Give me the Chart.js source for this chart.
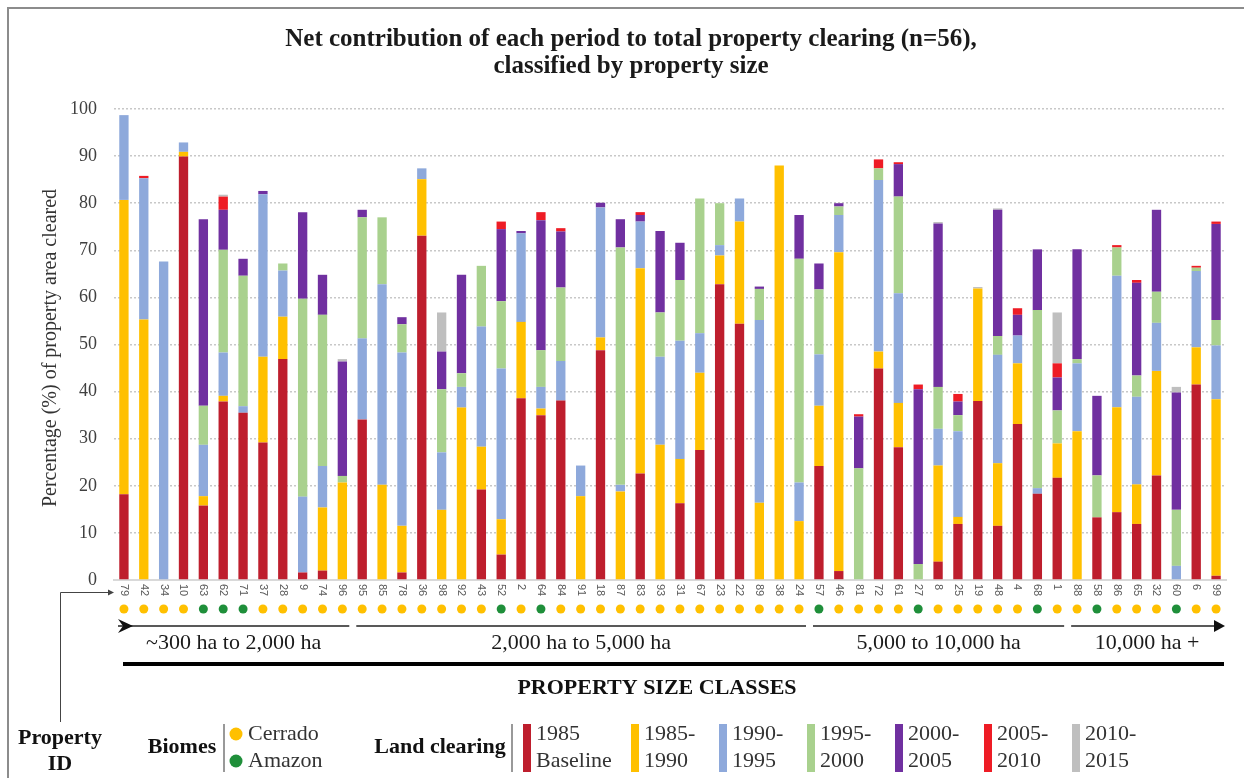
<!DOCTYPE html>
<html><head><meta charset="utf-8">
<script src="https://cdn.jsdelivr.net/npm/chart.js@4.4.1/dist/chart.umd.min.js"></script>
<style>html,body{margin:0;padding:0;background:#fff;}#wrap{width:1244px;height:778px;position:relative;}</style>
</head><body><div id="wrap"><canvas id="c" width="1244" height="778"></canvas></div>
<script>
// ---------- DATA ----------
const propertyIds = [79,42,34,10,63,62,71,37,28,9,74,96,
  95,85,78,36,98,92,43,52,2,64,84,91,18,87,83,93,31,67,23,22,89,38,24,
  57,46,81,72,61,27,8,25,19,48,4,68,1,
  88,58,86,65,32,60,6,99];
const biomes = ['C','C','C','C','A','A','A','C','C','C','C','C',
  'C','C','C','C','C','C','C','A','C','A','C','C','C','C','C','C','C','C','C','C','C','C','C',
  'A','C','C','C','C','A','C','C','C','C','C','A','C',
  'C','A','C','C','C','A','C','C'];
const baseline1985 = [18.2,0,0,89.9,15.8,37.9,35.5,29.2,46.9,1.6,2.0,0,
  34.1,0,1.6,73.1,0,0,19.2,5.4,38.6,35.0,38.1,0,48.8,0,22.6,0,16.3,27.6,62.8,54.4,0,0,0,
  24.2,1.9,0,44.9,28.2,0,3.9,11.9,38.0,11.5,33.1,18.3,21.7,
  0,13.3,14.4,11.9,22.2,0,41.5,0.9];
const p1985_1990 = [62.5,55.3,0,1.0,2.0,1.2,0,18.2,9.0,0,13.4,20.7,
  0,20.2,9.9,12.0,14.9,36.6,9.1,7.5,16.2,1.4,0,17.8,2.7,18.8,43.6,28.7,9.4,16.4,6.1,21.7,16.4,88.0,12.5,
  12.8,67.7,0,3.6,9.4,0,20.4,1.5,23.9,13.3,12.9,0,7.3,
  31.6,0,22.3,8.4,22.2,0,7.9,37.5];
const p1990_1995 = [18.0,30.0,67.6,2.0,10.9,9.2,1.4,34.5,9.8,16.1,8.8,0,
  17.2,42.6,36.8,2.3,12.2,4.4,25.5,32.0,18.8,4.6,8.4,6.5,27.6,1.4,9.9,18.7,25.1,8.4,2.2,4.9,38.8,0,8.2,
  10.9,7.9,0,36.4,23.3,0,7.8,18.2,0,23.0,5.9,1.2,0,
  14.4,0,27.9,18.6,10.2,3.0,16.2,11.4];
const p1995_2000 = [0,0,0,0,8.3,21.8,27.7,0,1.5,42.0,32.1,1.4,
  25.7,14.2,6.0,0,13.4,2.9,12.9,14.3,0,7.8,15.6,0,0,50.4,0,9.4,12.9,28.6,8.9,0,6.6,0,47.5,
  13.8,1.8,23.7,2.5,20.5,3.4,8.9,3.4,0,4.0,0,37.8,7.0,
  0.9,8.9,6.0,4.5,6.6,11.9,0.7,5.4];
const p2000_2005 = [0,0,0,0,39.6,8.5,3.6,0.7,0,18.4,8.5,24.3,
  1.6,0,1.5,0,8.0,20.9,0,15.3,0.5,27.6,11.9,0,1.0,6.0,1.4,17.3,7.9,0,0,0,0.5,0,9.3,
  5.5,0.7,11.0,0,6.9,37.1,34.7,2.9,0,26.8,4.4,12.9,7.0,
  23.3,16.9,0,19.7,17.4,24.9,0,20.4];
const p2005_2010 = [0,0.5,0,0,0,2.8,0,0,0,0,0,0,
  0,0,0,0,0,0,0,1.6,0,1.7,0.7,0,0,0,0.6,0,0,0,0,0,0,0,0,
  0,0,0.5,1.9,0.4,1.0,0,1.6,0,0,1.4,0,3.0,
  0,0,0.5,0.6,0,0,0.4,0.5];
const p2010_2015 = [0,0,0,0,0,0.4,0,0,0,0,0,0.5,
  0,0,0,0,8.3,0,0,0,0,0,0,0,0,0,0,0,0,0,0,0,0,0,0,
  0,0,0,0,0,0,0.3,0,0.3,0.3,0,0,10.8,
  0,0,0,0,0,1.2,0,0];
const periodLabels = [['1985','Baseline'],['1985-','1990'],['1990-','1995'],['1995-','2000'],['2000-','2005'],['2005-','2010'],['2010-','2015']];
const sizeClassLabels = ['~300 ha to 2,000 ha','2,000 ha to 5,000 ha','5,000 to 10,000 ha','10,000 ha +'];
const sizeClassFirst = [0,12,35,48];
const sizeClassLast = [11,34,47,55];
const yTicks = [0,10,20,30,40,50,60,70,80,90,100];

// ---------- STYLE ----------
const colors = ['#BE1E2D','#FFC000','#8EA9DB','#A9D18E','#7030A0','#EE1C25','#BFBFBF'];
const biomeColors = {C:'#FFC000', A:'#1F8F3A'};
const SERIF = '"Liberation Serif", "DejaVu Serif", serif';
const series = [baseline1985,p1985_1990,p1990_1995,p1995_2000,p2000_2005,p2005_2010,p2010_2015];

const datasets = series.map((d,k)=>({
  label: periodLabels[k].join(' '),
  data: d,
  backgroundColor: colors[k],
  borderWidth: 0,
  barPercentage: 0.47,
  categoryPercentage: 1.0
}));

const deco = {
  id:'deco',
  beforeDraw(chart){
    const ctx = chart.ctx;
    ctx.save();
    ctx.fillStyle = '#fff';
    ctx.fillRect(0,0,chart.width,chart.height);
    ctx.restore();
  },
  afterDraw(chart){
    const ctx = chart.ctx;
    const xs = chart.scales.x;
    const ca = chart.chartArea;
    ctx.save();
    // frame
    ctx.strokeStyle = '#8c8c8c'; ctx.lineWidth = 2;
    ctx.beginPath(); ctx.moveTo(8,778); ctx.lineTo(8,8); ctx.lineTo(1244,8); ctx.stroke();

    // title
    ctx.fillStyle = '#1a1a1a';
    ctx.font = 'bold 25px ' + SERIF;
    ctx.textAlign = 'center'; ctx.textBaseline = 'middle';
    ctx.fillText('Net contribution of each period to total property clearing (n=56),', 631, 40);
    ctx.fillText('classified by property size', 631, 67);

    // y title
    ctx.save();
    ctx.translate(51, 348);
    ctx.rotate(-Math.PI/2);
    ctx.font = '20px ' + SERIF;
    ctx.fillStyle = '#333';
    ctx.fillText('Percentage (%) of property area cleared', 0, 0);
    ctx.restore();

    // ID labels rotated clockwise
    ctx.font = '11px "Liberation Sans", Arial, sans-serif';
    ctx.fillStyle = '#595959';
    propertyIds.forEach((id,i)=>{
      const x = xs.getPixelForValue(i);
      ctx.save();
      ctx.translate(x, ca.bottom + 4);
      ctx.rotate(Math.PI/2);
      ctx.textAlign = 'left'; ctx.textBaseline = 'middle';
      ctx.fillText(String(id), 0, 0);
      ctx.restore();
    });

    // biome dots
    biomes.forEach((b,i)=>{
      const x = xs.getPixelForValue(i);
      ctx.fillStyle = biomeColors[b];
      ctx.beginPath(); ctx.arc(x, 609, 4.5, 0, Math.PI*2); ctx.fill();
    });

    // size class lines
    const half = (xs.getPixelForValue(1)-xs.getPixelForValue(0))/2;
    const lineY = 626;
    ctx.strokeStyle = '#595959'; ctx.lineWidth = 2;
    sizeClassFirst.forEach((f,g)=>{
      const x0 = xs.getPixelForValue(f) - half + 4;
      const x1 = xs.getPixelForValue(sizeClassLast[g]) + half - 3;
      ctx.beginPath(); ctx.moveTo(x0, lineY); ctx.lineTo(x1, lineY); ctx.stroke();
      ctx.fillStyle = '#1a1a1a';
      ctx.font = '22px ' + SERIF;
      ctx.textAlign = 'center'; ctx.textBaseline = 'middle';
      ctx.fillText(sizeClassLabels[g], (x0+x1)/2, 643);
    });
    // chevron tail at left
    const sx = xs.getPixelForValue(0) - half + 4;
    ctx.fillStyle = '#111';
    ctx.beginPath();
    ctx.moveTo(sx, lineY-7); ctx.lineTo(sx+15, lineY); ctx.lineTo(sx, lineY+7); ctx.lineTo(sx+5, lineY);
    ctx.closePath(); ctx.fill();
    // arrowhead at right
    const ex = xs.getPixelForValue(55) + half - 1;
    ctx.beginPath();
    ctx.moveTo(ex, lineY); ctx.lineTo(ex-11, lineY-6); ctx.lineTo(ex-11, lineY+6);
    ctx.closePath(); ctx.fill();

    // thick black line
    ctx.strokeStyle = '#000'; ctx.lineWidth = 4;
    ctx.beginPath(); ctx.moveTo(123, 664); ctx.lineTo(1224, 664); ctx.stroke();
    ctx.fillStyle = '#111';
    ctx.font = 'bold 22px ' + SERIF;
    ctx.textAlign = 'center'; ctx.textBaseline = 'middle';
    ctx.fillText('PROPERTY SIZE CLASSES', 657, 688);

    // Property ID label + connector
    ctx.font = 'bold 22px ' + SERIF;
    ctx.fillText('Property', 60, 738);
    ctx.fillText('ID', 60, 764);
    ctx.strokeStyle = '#444'; ctx.lineWidth = 1;
    ctx.beginPath(); ctx.moveTo(60.5, 722); ctx.lineTo(60.5, 592.5); ctx.lineTo(111, 592.5); ctx.stroke();
    ctx.fillStyle = '#444';
    ctx.beginPath(); ctx.moveTo(114, 592.5); ctx.lineTo(108, 589.5); ctx.lineTo(108, 595.5); ctx.closePath(); ctx.fill();

    // Biomes legend
    ctx.fillStyle = '#111';
    ctx.font = 'bold 22px ' + SERIF;
    ctx.fillText('Biomes', 182, 747);
    ctx.strokeStyle = '#777'; ctx.lineWidth = 1.5;
    ctx.beginPath(); ctx.moveTo(224, 724); ctx.lineTo(224, 772); ctx.stroke();
    ctx.fillStyle = biomeColors.C; ctx.beginPath(); ctx.arc(236, 734, 6.5, 0, Math.PI*2); ctx.fill();
    ctx.fillStyle = biomeColors.A; ctx.beginPath(); ctx.arc(236, 761, 6.5, 0, Math.PI*2); ctx.fill();
    ctx.fillStyle = '#333'; ctx.font = '22px ' + SERIF; ctx.textAlign = 'left';
    ctx.fillText('Cerrado', 248, 734);
    ctx.fillText('Amazon', 248, 761);

    // Land clearing legend
    ctx.fillStyle = '#111';
    ctx.font = 'bold 22px ' + SERIF; ctx.textAlign = 'center';
    ctx.fillText('Land clearing', 440, 747);
    ctx.strokeStyle = '#777';
    ctx.beginPath(); ctx.moveTo(512, 724); ctx.lineTo(512, 772); ctx.stroke();
    const lx = [523, 631, 719, 807, 895, 984, 1072];
    periodLabels.forEach((lab,k)=>{
      ctx.fillStyle = colors[k];
      ctx.fillRect(lx[k], 724, 8, 48);
      ctx.fillStyle = '#333'; ctx.font = '22px ' + SERIF; ctx.textAlign = 'left';
      ctx.fillText(lab[0], lx[k]+13, 734);
      ctx.fillText(lab[1], lx[k]+13, 761);
    });
    ctx.restore();
  }
};

new Chart(document.getElementById('c'), {
  type: 'bar',
  data: { labels: propertyIds.map(String), datasets },
  options: {
    responsive: false,
    animation: false,
    devicePixelRatio: 1,
    layout: { padding: { top: 109, bottom: 198, left: 0, right: 18 } },
    plugins: { legend: { display: false }, tooltip: { enabled: false }, title: { display: false } },
    scales: {
      x: {
        stacked: true,
        grid: { display: false },
        ticks: { display: false },
        border: { display: true, color: '#D9D9D9', width: 2 },
        afterFit(s){ s.height = 0; }
      },
      y: {
        stacked: true,
        min: 0, max: 100,
        afterBuildTicks(s){ s.ticks = yTicks.map(v=>({value:v})); },
        ticks: { font: { family: SERIF, size: 18 }, color: '#404040', padding: 17 },
        grid: { color: '#C8C8C8', lineWidth: 1.5, drawTicks: false },
        border: { display: false, dash: [2,2] },
        afterFit(s){ s.width = 114; }
      }
    }
  },
  plugins: [deco]
});
</script></body></html>
